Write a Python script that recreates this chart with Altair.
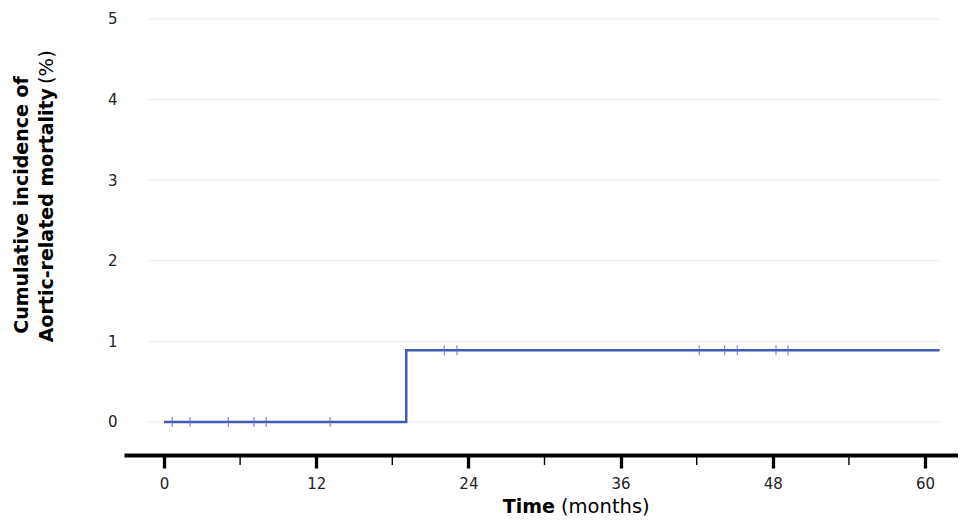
import altair as alt
import pandas as pd

# ---- data ----
step_time = [0.0, 19.1, 61.15]
step_cum = [0.0, 0.89, 0.89]

censor_time = [0.65, 2.05, 5.07, 7.09, 8.06, 13.1, 22.1, 23.1, 42.2, 44.2, 45.2, 48.25, 49.2]
censor_cum = [0, 0, 0, 0, 0, 0, 0.89, 0.89, 0.89, 0.89, 0.89, 0.89, 0.89]

y_ticks = [0, 1, 2, 3, 4, 5]
x_major = [0, 12, 24, 36, 48, 60]
x_minor = [6, 18, 30, 42, 54]
grid_x_start = -1.26
grid_x_end = 61.18

W, H = 834, 445
FONT = "DejaVu Sans"
BLUE = "#4259b6"

step_df = pd.DataFrame({"t": step_time, "c": step_cum})
cens_df = pd.DataFrame({"t": censor_time, "c": censor_cum})
grid_df = pd.DataFrame({"y": y_ticks, "x1": [grid_x_start] * len(y_ticks), "x2": [grid_x_end] * len(y_ticks)})
minor_df = pd.DataFrame({"t": x_minor})

xscale = alt.Scale(domain=[-3.154, 62.60], nice=False, zero=False)
yscale = alt.Scale(domain=[-0.41, 5.11], nice=False, zero=False)

xaxis = alt.Axis(values=x_major, title=None, grid=False, domainColor="black", domainWidth=4,
                 tickColor="black", tickWidth=3.3, tickSize=13, labelPadding=8, format="d",
                 labelFont=FONT, labelFontSize=15, labelColor="#222222", labelFontWeight="normal")
yaxis = alt.Axis(values=y_ticks, title=None, grid=False, domain=False, ticks=False, labelPadding=7,
                 format="d", labelFont=FONT, labelFontSize=15, labelColor="#222222")

grid = alt.Chart(grid_df).mark_rule(color="#ececec", strokeWidth=1).encode(
    x=alt.X("x1:Q", scale=xscale, axis=xaxis),
    x2="x2:Q",
    y=alt.Y("y:Q", scale=yscale, axis=yaxis),
)

line = alt.Chart(step_df).mark_line(interpolate="step-after", color=BLUE, strokeWidth=2.5).encode(
    x=alt.X("t:Q", scale=xscale),
    y=alt.Y("c:Q", scale=yscale),
)

cens = alt.Chart(cens_df).mark_tick(color="#5a6ec0", size=10, thickness=1.3, orient="vertical").encode(
    x=alt.X("t:Q", scale=xscale),
    y=alt.Y("c:Q", scale=yscale),
)

minor = alt.Chart(minor_df).mark_rule(color="black", strokeWidth=1.4).encode(
    x=alt.X("t:Q", scale=xscale),
    y=alt.value(H),
    y2=alt.value(H + 10),
)

title_df = pd.DataFrame({"k": [0]})
def txt(text, x, y, weight, align, angle=0, baseline="middle"):
    return alt.Chart(title_df).mark_text(
        text=text, font=FONT, fontSize=19 if weight == "bold" else 19.5, fontWeight=weight,
        color="black", align=align, baseline=baseline, angle=angle,
    ).encode(x=alt.value(x), y=alt.value(y))

titles = [
    txt("Cumulative incidence of", -102, 195, "bold", "center", 270),
    txt("Aortic-related mortality", -77, 78, "bold", "right", 270),
    txt("(%)", -77, 74, "normal", "left", 270),
    txt("Time", 431, 503, "bold", "right", 0, "alphabetic"),
    txt("(months)", 437, 503, "normal", "left", 0, "alphabetic"),
]

chart = alt.layer(grid, line, cens, minor, *titles).properties(
    width=W, height=H,
    background="white",
    autosize=alt.AutoSizeParams(type="none"),
    padding={"left": 116, "top": 2, "right": 0, "bottom": 62},
).configure_view(strokeWidth=0, stroke="transparent")

chart.save("out.html", embed_options={"renderer": "svg", "actions": False})
